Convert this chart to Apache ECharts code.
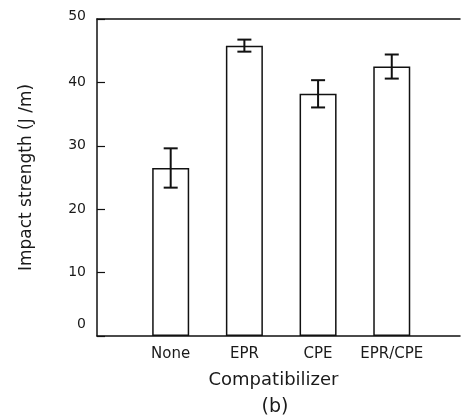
<!DOCTYPE html>
<html>
<head>
<meta charset="utf-8">
<script src="https://cdn.jsdelivr.net/npm/echarts@6/dist/echarts.min.js"></script>
<style>
html,body{margin:0;padding:0;background:#fff;}
#c{width:463px;height:419px;}
</style>
</head>
<body>
<div id="c"></div>
<script>
const categories = ['None', 'EPR', 'CPE', 'EPR/CPE'];
const impact = [26.5, 45.8, 38.2, 42.5];
const errors = [3.1, 0.95, 2.15, 1.9];
const yTicks = [0, 10, 20, 30, 40, 50];

const FONT = '"DejaVu Sans", sans-serif';
const INK = '#111';
const TXT = '#1a1a1a';

const barData = categories.map((c, i) => [i + 1, impact[i]]);
const errData = categories.map((c, i) => [i + 1, impact[i] - errors[i], impact[i] + errors[i]]);

const chart = echarts.init(document.getElementById('c'), null, {renderer: 'canvas'});
chart.setOption({
  animation: false,
  backgroundColor: '#fff',
  grid: {left: 97, right: 0, top: 19, bottom: 83},
  xAxis: [{
    type: 'value', min: 0, max: 4.926, interval: 1,
    axisLine: {show: true, lineStyle: {color: INK, width: 1.5}},
    axisTick: {show: false},
    splitLine: {show: false},
    axisLabel: {
      margin: 11, fontSize: 15, fontFamily: FONT, color: TXT,
      formatter: v => (v >= 1 && v <= categories.length && Number.isInteger(v)) ? categories[v - 1] : ''
    },
    name: 'Compatibilizer', nameLocation: 'middle', nameGap: 35,
    nameTextStyle: {fontSize: 18, fontFamily: FONT, color: TXT, padding: [0, 10, 0, 0]}
  }, {
    type: 'value', min: 0, max: 4.926, position: 'top',
    axisLine: {show: true, lineStyle: {color: INK, width: 1.5}},
    axisTick: {show: false}, axisLabel: {show: false}, splitLine: {show: false}
  }],
  yAxis: {
    type: 'value', min: yTicks[0], max: yTicks[yTicks.length - 1], interval: 10,
    axisLine: {show: true, lineStyle: {color: INK, width: 1.5}},
    axisTick: {show: true, inside: true, length: 8, lineStyle: {color: INK, width: 1.2}},
    splitLine: {show: false},
    axisLabel: {
      margin: 11, fontSize: 14, fontFamily: FONT, color: TXT,
      formatter: v => v === 0 ? '{z|0}' : (v === 50 ? '{t|50}' : String(v)),
      rich: {
        z: {fontSize: 14, fontFamily: FONT, color: TXT, padding: [0, 0, 24, 0]},
        t: {fontSize: 14, fontFamily: FONT, color: TXT, padding: [0, 0, 6, 0]}
      }
    },
    name: 'Impact strength (J /m)', nameLocation: 'middle', nameGap: 62, nameRotate: 90,
    nameTextStyle: {fontSize: 17, fontFamily: FONT, color: TXT}
  },
  graphic: [{
    type: 'text', x: 275, y: 407,
    style: {text: '(b)', fontSize: 19, fontFamily: FONT, fill: TXT, textAlign: 'center', textVerticalAlign: 'middle'}
  }],
  series: [{
    type: 'bar', xAxisIndex: 0, data: barData, barWidth: 37,
    itemStyle: {color: '#fff', borderColor: INK, borderWidth: 1.5}
  }, {
    type: 'custom', xAxisIndex: 0, data: errData,
    renderItem: function (params, api) {
      const x = api.value(0);
      const lo = api.coord([x, api.value(1)]);
      const hi = api.coord([x, api.value(2)]);
      const hw = 7;
      const st = {stroke: INK, lineWidth: 2};
      return {type: 'group', children: [
        {type: 'line', shape: {x1: hi[0], y1: hi[1], x2: lo[0], y2: lo[1]}, style: st},
        {type: 'line', shape: {x1: hi[0] - hw, y1: hi[1], x2: hi[0] + hw, y2: hi[1]}, style: st},
        {type: 'line', shape: {x1: lo[0] - hw, y1: lo[1], x2: lo[0] + hw, y2: lo[1]}, style: st}
      ]};
    },
    z: 5
  }]
});
</script>
</body>
</html>
